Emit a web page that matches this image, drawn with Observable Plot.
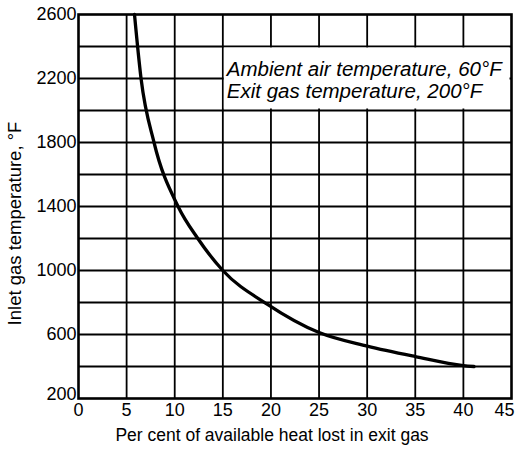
<!DOCTYPE html>
<html>
<head>
<meta charset="utf-8">
<script src="https://cdn.jsdelivr.net/npm/d3@7"></script>
<script src="https://cdn.jsdelivr.net/npm/@observablehq/plot@0.6"></script>
<style>
  html, body { margin: 0; padding: 0; background: white; overflow: hidden; }
</style>
</head>
<body>
<div id="chart"></div>
<script>
// Curve: percent of available heat lost vs inlet gas temperature
const percentLost = [5.82, 6.5, 7.85, 10.35, 12.4, 15.0, 19.6, 25, 30, 35, 40, 41.1];
const inletTemp   = [2600, 2200, 1800, 1400, 1200, 1000, 790, 612, 527, 462, 406, 400];

const xTicks = [0, 5, 10, 15, 20, 25, 30, 35, 40];
const xTickLast = [45];
const yTicks = [600, 1000, 1400, 1800, 2200, 2600];
const yTickFirst = [200];
const xGrid = [5, 10, 15, 20, 25, 30, 35, 40];
const yGrid = [400, 600, 800, 1000, 1200, 1400, 1600, 1800, 2000, 2200, 2400];

const xLabel = "Per cent of available heat lost in exit gas";
const yLabel = "Inlet gas temperature, °F";
const noteLines = ["Ambient air temperature, 60°F", "Exit gas temperature, 200°F"];
// note panel spans grid cells x 15–45, y 2000–2400
const noteBox = [{x1: 15, x2: 45, y1: 2000, y2: 2400}];

const curve = percentLost.map((p, i) => ({p, t: inletTemp[i]}));
const fmt = d => String(d);

const chart = Plot.plot({
  width: 519,
  height: 451,
  marginLeft: 78,
  marginRight: 8,
  marginTop: 14,
  marginBottom: 53,
  style: {fontFamily: "'Liberation Sans', Arial, sans-serif", fontSize: "18px", background: "white", color: "black"},
  x: {domain: [0, 45]},
  y: {domain: [200, 2600]},
  marks: [
    Plot.ruleX(xGrid, {stroke: "black", strokeWidth: 1.8}),
    Plot.ruleY(yGrid, {stroke: "black", strokeWidth: 1.8}),
    Plot.rect(noteBox, {x1: "x1", x2: "x2", y1: "y1", y2: "y2", fill: "white", inset: 1.5}),
    Plot.text([noteLines.join("\n")], {
      x: noteBox[0].x1, y: (noteBox[0].y1 + noteBox[0].y2) / 2,
      textAnchor: "start", lineAnchor: "middle", dx: 4, dy: 1, lineHeight: 1.07,
      fontSize: 20.5, fontStyle: "italic", fill: "black"
    }),
    Plot.line(curve, {x: "p", y: "t", curve: "monotone-x", stroke: "black", strokeWidth: 3.3}),
    Plot.frame({stroke: "black", strokeWidth: 2.6}),
    Plot.axisY(yTicks, {tickSize: 0, tickPadding: 2, fontSize: 18, tickFormat: fmt, label: null}),
    Plot.axisY(yTickFirst, {tickSize: 0, tickPadding: 2, fontSize: 18, tickFormat: fmt, label: null, dy: -4}),
    Plot.axisX(xTicks, {tickSize: 0, tickPadding: 5, fontSize: 18, tickFormat: fmt, label: null}),
    Plot.axisX(xTickLast, {tickSize: 0, tickPadding: 5, fontSize: 18, tickFormat: fmt, label: null, dx: -7}),
    Plot.text([xLabel], {frameAnchor: "bottom", textAnchor: "middle", dy: 30, dx: -23, fontSize: 17.5, lineAnchor: "top", fill: "black"}),
    Plot.text([yLabel], {frameAnchor: "left", textAnchor: "middle", rotate: -90, dx: -63, dy: 17, fontSize: 18.5, fill: "black"})
  ]
});
document.getElementById("chart").appendChild(chart);
</script>
</body>
</html>
